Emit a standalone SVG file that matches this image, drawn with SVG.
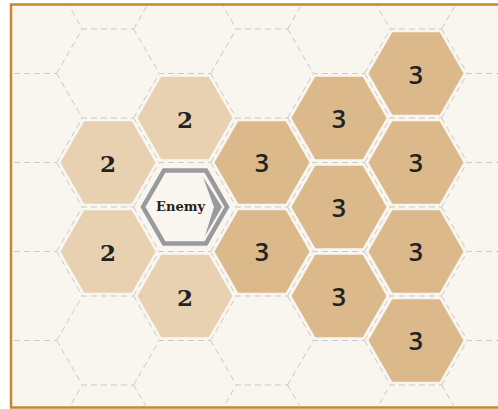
<svg xmlns="http://www.w3.org/2000/svg" xmlns:xlink="http://www.w3.org/1999/xlink" width="498" height="409" viewBox="0 0 498 409">
<style>
.grid{fill:none;stroke:#c9c9c9;stroke-width:1;stroke-dasharray:6 4}
.r2{fill:#e8d1b0}
.r3{fill:#dbb98a}
.n2{font-family:"DejaVu Serif","Liberation Serif",serif;font-weight:bold;font-size:23px;fill:#222;text-anchor:middle}
.n3{font-family:"Open Sans","DejaVu Sans",sans-serif;font-weight:600;font-size:25px;fill:#222;text-anchor:middle}
.en{font-family:"DejaVu Serif","Liberation Serif",serif;font-weight:bold;font-size:13px;fill:#222;text-anchor:middle}
</style>
<defs>
<path id="ge" d="M-51.38,0 L-25.69,-44.5 L25.69,-44.5 M-51.38,0 L-25.69,44.5"/>
<polygon id="fh" points="47.5,0 23.75,41.14 -23.75,41.14 -47.5,0 -23.75,-41.14 23.75,-41.14"/>
<clipPath id="frame"><rect x="12" y="6" width="490" height="401"/></clipPath>
</defs>
<rect x="0" y="0" width="498" height="409" fill="#ffffff"/>
<rect x="11" y="4.5" width="500" height="403" fill="#f9f6f0" stroke="#c8862f" stroke-width="2.5"/>
<g id="tiles">
<g id="hex-2-a"><use href="#fh" x="185" y="118" class="r2"/><text class="n2" x="185" y="127.5">2</text></g>
<g id="hex-2-b"><use href="#fh" x="108" y="162.5" class="r2"/><text class="n2" x="108" y="172">2</text></g>
<g id="hex-2-c"><use href="#fh" x="108" y="251.5" class="r2"/><text class="n2" x="108" y="261">2</text></g>
<g id="hex-2-d"><use href="#fh" x="185" y="296" class="r2"/><text class="n2" x="185" y="305.5">2</text></g>
<g id="hex-3-a"><use href="#fh" x="262" y="162.5" class="r3"/><text class="n3" x="262" y="172">3</text></g>
<g id="hex-3-b"><use href="#fh" x="262" y="251.5" class="r3"/><text class="n3" x="262" y="261">3</text></g>
<g id="hex-3-c"><use href="#fh" x="339" y="118" class="r3"/><text class="n3" x="339" y="127.5">3</text></g>
<g id="hex-3-d"><use href="#fh" x="339" y="207" class="r3"/><text class="n3" x="339" y="216.5">3</text></g>
<g id="hex-3-e"><use href="#fh" x="339" y="296" class="r3"/><text class="n3" x="339" y="305.5">3</text></g>
<g id="hex-3-f"><use href="#fh" x="416" y="73.5" class="r3"/><text class="n3" x="416" y="84">3</text></g>
<g id="hex-3-g"><use href="#fh" x="416" y="162.5" class="r3"/><text class="n3" x="416" y="172">3</text></g>
<g id="hex-3-h"><use href="#fh" x="416" y="251.5" class="r3"/><text class="n3" x="416" y="261">3</text></g>
<g id="hex-3-i"><use href="#fh" x="416" y="340.5" class="r3"/><text class="n3" x="416" y="350">3</text></g>
</g>
<g id="connectors"></g>
<g id="grid" class="grid" clip-path="url(#frame)">
<use href="#ge" x="31" y="-60"/><use href="#ge" x="31" y="29"/><use href="#ge" x="31" y="118"/><use href="#ge" x="31" y="207"/><use href="#ge" x="31" y="296"/><use href="#ge" x="31" y="385"/><use href="#ge" x="31" y="474"/>
<use href="#ge" x="108" y="-15.5"/><use href="#ge" x="108" y="73.5"/><use href="#ge" x="108" y="162.5"/><use href="#ge" x="108" y="251.5"/><use href="#ge" x="108" y="340.5"/><use href="#ge" x="108" y="429.5"/>
<use href="#ge" x="185" y="-60"/><use href="#ge" x="185" y="29"/><use href="#ge" x="185" y="118"/><use href="#ge" x="185" y="207"/><use href="#ge" x="185" y="296"/><use href="#ge" x="185" y="385"/><use href="#ge" x="185" y="474"/>
<use href="#ge" x="262" y="-15.5"/><use href="#ge" x="262" y="73.5"/><use href="#ge" x="262" y="162.5"/><use href="#ge" x="262" y="251.5"/><use href="#ge" x="262" y="340.5"/><use href="#ge" x="262" y="429.5"/>
<use href="#ge" x="339" y="-60"/><use href="#ge" x="339" y="29"/><use href="#ge" x="339" y="118"/><use href="#ge" x="339" y="207"/><use href="#ge" x="339" y="296"/><use href="#ge" x="339" y="385"/><use href="#ge" x="339" y="474"/>
<use href="#ge" x="416" y="-15.5"/><use href="#ge" x="416" y="73.5"/><use href="#ge" x="416" y="162.5"/><use href="#ge" x="416" y="251.5"/><use href="#ge" x="416" y="340.5"/><use href="#ge" x="416" y="429.5"/>
<use href="#ge" x="493" y="-60"/><use href="#ge" x="493" y="29"/><use href="#ge" x="493" y="118"/><use href="#ge" x="493" y="207"/><use href="#ge" x="493" y="296"/><use href="#ge" x="493" y="385"/><use href="#ge" x="493" y="474"/>
</g>
<g id="enemy">
<polygon points="227,207 206,243.4 164,243.4 143,207 164,170.6 206,170.6" fill="#f9f6f0" stroke="#9a9a9e" stroke-width="4.5"/>
<polygon points="203,177 222,207 205,236 214,207" fill="#9a9a9e"/>
<text class="en" x="180.5" y="211">Enemy</text>
</g>
</svg>
